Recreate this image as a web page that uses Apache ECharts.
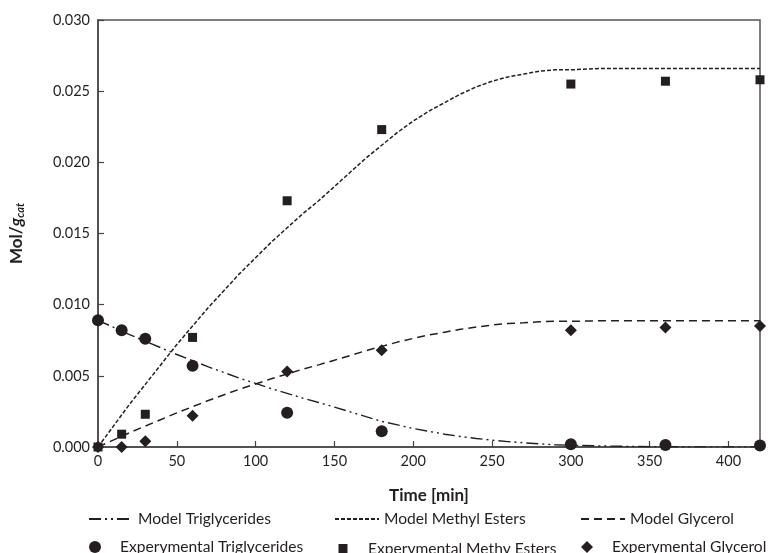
<!DOCTYPE html>
<html>
<head>
<meta charset="utf-8">
<script src="https://cdn.jsdelivr.net/npm/echarts@6/dist/echarts.min.js"></script>
<style>html,body{margin:0;padding:0;background:#fff}#c{width:769px;height:553px}</style>
</head>
<body>
<div id="c"></div>
<script>
// Experimental data
const expTimes = [0, 15, 30, 60, 120, 180, 300, 360, 420];
const expTriglycerides = [0.0089, 0.0082, 0.0076, 0.0057, 0.0024, 0.0011, 0.0002, 0.00014, 0.0001];
const expMethylEsters = [0, 0.0009, 0.0023, 0.0077, 0.0173, 0.0223, 0.0255, 0.0257, 0.0258];
const expGlycerol = [0, 0.0000, 0.0004, 0.0022, 0.0053, 0.0068, 0.0082, 0.0084, 0.0085];

// Model curves
const modelTimes = [0,10,20,30,40,50,60,70,80,90,100,110,120,130,140,150,160,170,180,190,200,210,220,230,240,250,260,270,280,290,300,320,340,360,380,400,420];
const modelMethylEsters = [0,0.0015,0.0030,0.0044,0.0058,0.0072,0.0085,0.0098,0.0110,0.0122,0.0133,0.0144,0.0154,0.0164,0.0173,0.0183,0.0193,0.0203,0.0212,0.0221,0.0229,0.0236,0.0242,0.0248,0.0253,0.0257,0.0260,0.0262,0.0264,0.0265,0.0265,0.0266,0.0266,0.0266,0.0266,0.0266,0.0266];
const modelGlycerol = [0,0.0005,0.0010,0.00147,0.00193,0.0024,0.00283,0.00327,0.00367,0.00407,0.00443,0.0048,0.00513,0.00547,0.00577,0.0061,0.00643,0.00677,0.00707,0.00737,0.00763,0.00787,0.00807,0.00827,0.00843,0.00857,0.00867,0.00873,0.0088,0.00883,0.00883,0.00887,0.00887,0.00887,0.00887,0.00887,0.00887];
const modelTriglycerides = [0.0089,0.0084,0.0079,0.00743,0.00697,0.0065,0.00607,0.00563,0.00523,0.00483,0.00447,0.0041,0.00377,0.00343,0.00313,0.0028,0.00247,0.00213,0.0018,0.00155,0.0013,0.0011,0.0009,0.00074,0.0006,0.00048,0.00038,0.0003,0.00022,0.00016,0.00012,0.00007,0.00004,0.00002,0.00001,0.00001,0.00001];

const names = {
  mTG: 'Model Triglycerides', mME: 'Model Methyl Esters', mG: 'Model Glycerol',
  eTG: 'Experymental Triglycerides', eME: 'Experymental Methy Esters', eG: 'Experymental Glycerol'
};

const INK = '#231f20';
const FONT = 'Lato';
const pair = (xs, ys) => xs.map((x, i) => [x, ys[i]]);

const chart = echarts.init(document.getElementById('c'), null, {renderer: 'canvas'});

const legendText = {fontFamily: FONT, fontSize: 15.6, color: INK, lineHeight: 14};
function lineLegend(name, left) {
  return {data: [name], left: left, top: 511, padding: 0, itemWidth: 44, itemHeight: 14,
    textStyle: legendText, selectedMode: false,
    itemStyle: {opacity: 0, color: 'rgba(0,0,0,0)', borderWidth: 0}};
}
function markLegend(name, icon, size, pad, left) {
  return {data: [{name: name, icon: icon}], left: left, top: 545 - size / 2, padding: 0,
    itemWidth: size, itemHeight: size, selectedMode: false,
    textStyle: Object.assign({}, legendText, {padding: [0, 0, 0, pad]}),
    itemStyle: {color: INK}};
}

chart.setOption({
  animation: false,
  backgroundColor: '#fff',
  textStyle: {fontFamily: FONT},
  grid: {left: 98, right: 9, top: 20, bottom: 106, show: true, borderColor: '#555', borderWidth: 1.5, backgroundColor: 'transparent'},
  legend: [
    lineLegend(names.mTG, 88),
    lineLegend(names.mME, 334),
    lineLegend(names.mG, 580),
    markLegend(names.eTG, 'circle', 12, 14, 89),
    markLegend(names.eME, 'rect', 9, 15.5, 338.5),
    markLegend(names.eG, 'diamond', 12, 14, 581)
  ],
  xAxis: {
    type: 'value', min: 0, max: 420, interval: 50,
    name: 'Time [min]', nameLocation: 'middle', nameGap: 40,
    nameTextStyle: {fontFamily: FONT, fontWeight: 'bold', fontSize: 17, color: INK},
    axisLine: {onZero: false, lineStyle: {color: '#444', width: 1.5}},
    axisTick: {inside: true, length: 6, lineStyle: {color: '#444', width: 1.2}},
    axisLabel: {showMaxLabel: false, margin: 7, fontFamily: FONT, fontSize: 14.5, color: INK},
    splitLine: {show: false}
  },
  yAxis: {
    type: 'value', min: 0, max: 0.03, interval: 0.005,
    name: '{a|Mol/}{b|g}{c|cat}', nameLocation: 'middle', nameGap: 72, nameRotate: 90,
    nameTextStyle: {
      rich: {
        a: {fontFamily: FONT, fontWeight: 'bold', fontSize: 17, color: INK},
        b: {fontFamily: FONT, fontWeight: 'bold', fontStyle: 'italic', fontSize: 17, color: INK},
        c: {fontFamily: FONT, fontWeight: 'bold', fontStyle: 'italic', fontSize: 11, color: INK, padding: [8, 0, 0, 0]}
      }
    },
    axisLine: {show: true, lineStyle: {color: '#444', width: 1.5}},
    axisTick: {show: true, inside: true, length: 6, lineStyle: {color: '#444', width: 1.2}},
    axisLabel: {margin: 8, fontFamily: FONT, fontSize: 14.5, color: INK, formatter: v => v.toFixed(3)},
    splitLine: {show: false}
  },
  series: [
    {name: names.mTG, type: 'line', data: pair(modelTimes, modelTriglycerides), symbol: 'none',
      lineStyle: {color: INK, width: 1.4, type: [12, 4, 2, 4, 2, 4]}, itemStyle: {color: INK}},
    {name: names.mME, type: 'line', data: pair(modelTimes, modelMethylEsters), symbol: 'none',
      lineStyle: {color: INK, width: 1.5, type: [4, 2]}, itemStyle: {color: INK}},
    {name: names.mG, type: 'line', data: pair(modelTimes, modelGlycerol), symbol: 'none',
      lineStyle: {color: INK, width: 1.5, type: [8, 5]}, itemStyle: {color: INK}},
    {name: names.eTG, type: 'scatter', data: pair(expTimes, expTriglycerides), symbol: 'circle', symbolSize: 12,
      itemStyle: {color: INK, opacity: 1}, clip: false, z: 5},
    {name: names.eME, type: 'scatter', data: pair(expTimes, expMethylEsters), symbol: 'rect', symbolSize: 9,
      itemStyle: {color: INK, opacity: 1}, clip: false, z: 5},
    {name: names.eG, type: 'scatter', data: pair(expTimes, expGlycerol), symbol: 'diamond', symbolSize: 12,
      itemStyle: {color: INK, opacity: 1}, clip: false, z: 5}
  ]
});
</script>
</body>
</html>
